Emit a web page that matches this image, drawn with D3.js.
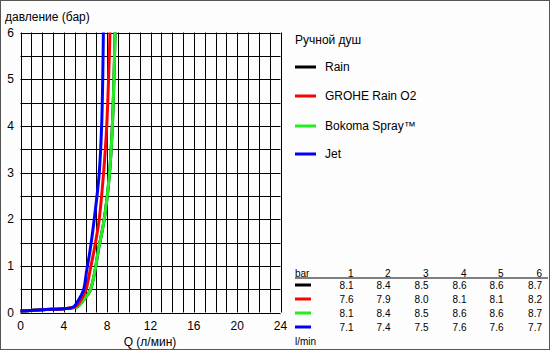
<!DOCTYPE html>
<html><head><meta charset="utf-8">
<script src="https://cdn.jsdelivr.net/npm/d3@7"></script>
<style>
body{margin:0;background:#fff;}
svg{display:block;font-family:"Liberation Sans",Arial,sans-serif;}
</style></head>
<body><svg id="c" width="550" height="350"></svg>
<script>
const seriesNames = ["Rain", "GROHE Rain O2", "Bokoma Spray™", "Jet"];
const seriesColors = ["#000000", "#ff0000", "#22ee22", "#0000ff"];
const rainData = [[0,0.03],[2,0.06],[4,0.08],[4.8,0.1],[5.3,0.13],[5.8,0.26],[6.42,0.47],[6.88,0.9],[7.18,1.33],[7.71,1.97],[8.2,2.94],[8.48,4.0],[8.73,6.0]];
const groheData = [[0,0.03],[2,0.06],[4,0.08],[4.7,0.1],[5.1,0.13],[5.56,0.26],[6.02,0.47],[6.42,0.9],[6.79,1.33],[7.25,1.97],[7.65,2.94],[7.96,4.0],[8.26,6.0]];
const bokomaData = [[0,0.03],[2,0.06],[4,0.08],[4.8,0.1],[5.3,0.13],[5.8,0.26],[6.42,0.47],[6.88,0.9],[7.18,1.33],[7.71,1.97],[8.2,2.94],[8.48,4.0],[8.73,6.0]];
const jetData = [[0,0.03],[2,0.06],[4,0.08],[4.7,0.1],[5.0,0.14],[5.34,0.26],[5.8,0.47],[6.11,0.9],[6.42,1.33],[6.79,1.97],[7.25,2.94],[7.49,4.0],[7.65,6.0]];
const xTicks = [0,4,8,12,16,20,24];
const yTicks = [0,1,2,3,4,5,6];
const tableHeader = ["1","2","3","4","5","6"];
const tableRain = ["8.1","8.4","8.5","8.6","8.6","8.7"];
const tableGrohe = ["7.6","7.9","8.0","8.1","8.1","8.2"];
const tableBokoma = ["8.1","8.4","8.5","8.6","8.6","8.7"];
const tableJet = ["7.1","7.4","7.5","7.6","7.6","7.7"];

const svg = d3.select("#c");
svg.append("rect").attr("x",0.5).attr("y",0.5).attr("width",549).attr("height",349)
  .attr("fill","#fdfdfd").attr("stroke","#555");

const x = d3.scaleLinear().domain([0,24]).range([20.5,280.5]);
const y = d3.scaleLinear().domain([0,6]).range([312.5,32.5]);

// grid
const g = svg.append("g");
g.selectAll("line.v").data(d3.range(0,25,1)).join("line")
  .attr("x1",d=>Math.round(x(d))+0.5).attr("x2",d=>Math.round(x(d))+0.5)
  .attr("y1",y(6)).attr("y2",y(0)).attr("stroke","#000").attr("stroke-width",1);
g.selectAll("line.h").data(d3.range(0,6.01,0.5)).join("line")
  .attr("y1",d=>Math.round(y(d))+0.5).attr("y2",d=>Math.round(y(d))+0.5)
  .attr("x1",x(0)).attr("x2",x(24)).attr("stroke","#000").attr("stroke-width",1);

// axes labels
svg.append("g").selectAll("text").data(yTicks).join("text")
  .attr("x",14).attr("y",d=>y(d)).attr("dy","0.35em").attr("text-anchor","end")
  .attr("font-size",12).attr("fill","#000").text(d=>d);
svg.append("g").selectAll("text").data(xTicks).join("text")
  .attr("x",d=>x(d)).attr("y",330).attr("text-anchor","middle")
  .attr("font-size",12).attr("fill","#000").text(d=>d);
svg.append("text").attr("x",5).attr("y",21).attr("font-size",12).text("давление (бар)");
svg.append("text").attr("x",150).attr("y",346).attr("text-anchor","middle").attr("font-size",12).text("Q (л/мин)");

// curves
const line = d3.line().x(d=>x(d[0])).y(d=>y(d[1])).curve(d3.curveCatmullRom.alpha(0.5));
const drawOrder = [[rainData,0],[bokomaData,2],[groheData,1],[jetData,3]];
const cg = svg.append("g");
drawOrder.forEach(([data,i])=>{
  cg.append("path").attr("d",line(data)).attr("fill","none")
    .attr("stroke",seriesColors[i]).attr("stroke-width",3);
});

// legend
svg.append("text").attr("x",295).attr("y",40).attr("dy","0.35em").attr("font-size",12).text("Ручной душ");
const legY = [67,96,126,154];
seriesNames.forEach((n,i)=>{
  svg.append("line").attr("x1",295).attr("x2",316).attr("y1",legY[i]).attr("y2",legY[i])
    .attr("stroke",seriesColors[i]).attr("stroke-width",3);
  svg.append("text").attr("x",325).attr("y",legY[i]).attr("dy","0.35em").attr("font-size",12).text(n);
});

// table
const colX = [353.5,390.5,428.5,466.5,503.5,542];
svg.append("text").attr("x",295).attr("y",273).attr("dy","0.35em").attr("font-size",10).text("bar");
tableHeader.forEach((t,j)=>svg.append("text").attr("x",colX[j]).attr("y",273).attr("dy","0.35em")
  .attr("text-anchor","end").attr("font-size",10).text(t));
svg.append("line").attr("x1",295).attr("x2",548).attr("y1",278).attr("y2",278).attr("stroke","#000").attr("stroke-width",1);
const rows = [tableRain,tableGrohe,tableBokoma,tableJet];
const rowY = [285,299,313,327];
rows.forEach((r,i)=>{
  svg.append("line").attr("x1",295).attr("x2",311).attr("y1",rowY[i]).attr("y2",rowY[i])
    .attr("stroke",seriesColors[i]).attr("stroke-width",3);
  r.forEach((t,j)=>svg.append("text").attr("x",colX[j]).attr("y",rowY[i]).attr("dy","0.35em")
    .attr("text-anchor","end").attr("font-size",10).text(t));
});
svg.append("text").attr("x",295).attr("y",341).attr("dy","0.35em").attr("font-size",10).text("l/min");
</script></body></html>
